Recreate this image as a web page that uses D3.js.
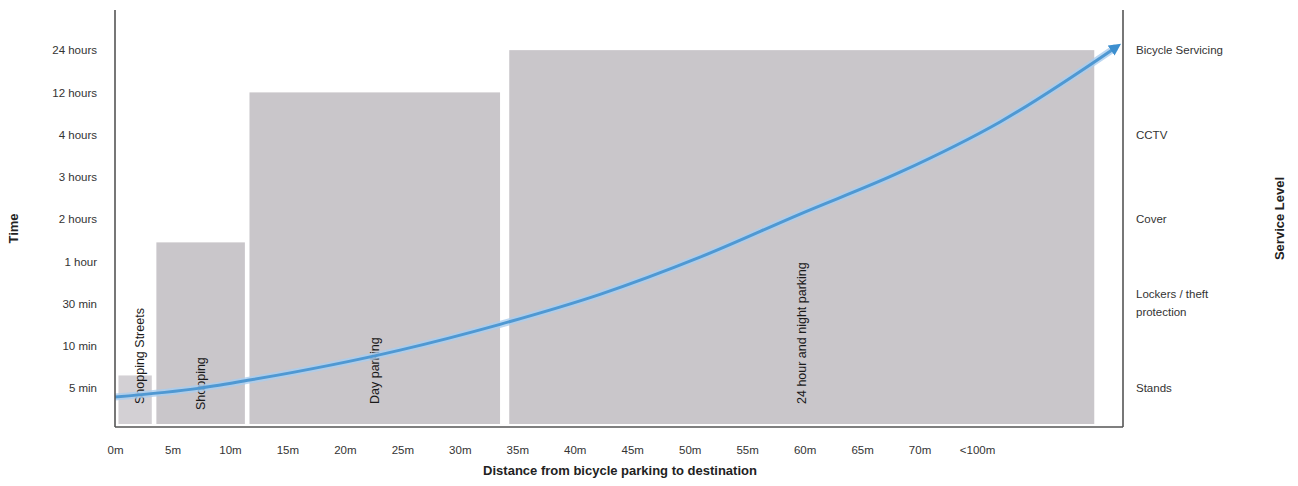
<!DOCTYPE html>
<html>
<head>
<meta charset="utf-8">
<script src="https://cdn.jsdelivr.net/npm/d3@7"></script>
<style>
  body { margin: 0; background: #fff; }
  svg { display: block; font-family: "Liberation Sans", Arial, sans-serif; }
</style>
</head>
<body>
<script>
// time levels on the left axis (bottom to top)
const timeLabels = ["5 min", "10 min", "30 min", "1 hour", "2 hours", "3 hours", "4 hours", "12 hours", "24 hours"];
// service levels on the right axis, with the time level they sit at
const serviceLabels = ["Stands", "Lockers / theft protection", "Cover", "CCTV", "Bicycle Servicing"];
const serviceLevel = [0, 2, 4, 6, 8];

// distance ticks
const distTicks = [0, 5, 10, 15, 20, 25, 30, 35, 40, 45, 50, 55, 60, 65, 70, 75];
const distLabels = ["0m", "5m", "10m", "15m", "20m", "25m", "30m", "35m", "40m", "45m", "50m", "55m", "60m", "65m", "70m", "<100m"];

// parking types (grey blocks)
const parkNames = ["Shopping Streets", "Shopping", "Day parking", "24 hour and night parking"];
const parkFrom = [0.3, 3.6, 11.7, 34.3];
const parkTo = [3.2, 11.3, 33.5, 85.2];
const parkTop = [0.3, 3.45, 7, 8];

// the blue trend curve
const curveDist = [0, 7.4, 11.7, 24.8, 33.5, 42.2, 50.9, 59.6, 68.3, 77, 87.1];
const curveLevel = [-0.21, 0, 0.19, 0.9, 1.51, 2.22, 3.1, 4.12, 5.11, 6.3, 8.07];

const width = 1298, height = 486;
const mLeft = 115, mRight = 1123, mTop = 10, mBottom = 427;

const x = d3.scaleLinear().domain([0, 87.7]).range([mLeft, mRight]);
const y = d3.scaleLinear().domain([-0.92, 8.95]).range([mBottom, mTop]);

const svg = d3.select("body").append("svg")
    .attr("width", width)
    .attr("height", height);

const defs = svg.append("defs");
defs.append("marker")
    .attr("id", "arrow")
    .attr("viewBox", "0 0 10 10")
    .attr("refX", 5).attr("refY", 5)
    .attr("markerWidth", 4).attr("markerHeight", 4)
    .attr("orient", "auto")
    .append("path")
    .attr("d", "M0,0 L10,5 L0,10 z")
    .attr("fill", "#3d8fcf");

// grey blocks
svg.append("g")
    .selectAll("rect")
    .data(parkNames)
    .join("rect")
    .attr("x", (d, i) => x(parkFrom[i]))
    .attr("width", (d, i) => x(parkTo[i]) - x(parkFrom[i]))
    .attr("y", (d, i) => y(parkTop[i]))
    .attr("height", (d, i) => mBottom - 3 - y(parkTop[i]))
    .attr("fill", (d, i) => i == 0 ? "#d3d0d4" : "#c9c6ca");

// block labels, vertical
svg.append("g")
    .selectAll("text")
    .data(parkNames)
    .join("text")
    .attr("transform", (d, i) => `translate(${(x(parkFrom[i]) + x(parkTo[i])) / 2 + (i == 0 ? 5 : 0)},${i == 1 ? 410 : 404}) rotate(-90)`)
    .attr("dy", "0.35em")
    .style("font-size", "12.5px")
    .attr("fill", "#1a1a1a")
    .text(d => d);

// curve
const line = d3.line()
    .x((d, i) => x(curveDist[i]))
    .y((d, i) => y(curveLevel[i]))
    .curve(d3.curveMonotoneX);

svg.append("path")
    .datum(curveDist)
    .attr("d", line)
    .attr("fill", "none")
    .attr("stroke", "#a9cdef")
    .attr("stroke-width", 7)
    .attr("stroke-opacity", 0.8);

svg.append("path")
    .datum(curveDist)
    .attr("d", line)
    .attr("fill", "none")
    .attr("stroke", "#4f98d2")
    .attr("stroke-width", 3)
    .attr("marker-end", "url(#arrow)");

// axis lines
const axisColor = "#555";
svg.append("line").attr("x1", mLeft).attr("x2", mLeft).attr("y1", mTop).attr("y2", mBottom)
    .attr("stroke", axisColor).attr("stroke-width", 1.6);
svg.append("line").attr("x1", mRight).attr("x2", mRight).attr("y1", mTop).attr("y2", mBottom)
    .attr("stroke", axisColor).attr("stroke-width", 1.6);
svg.append("line").attr("x1", mLeft).attr("x2", mRight).attr("y1", mBottom).attr("y2", mBottom)
    .attr("stroke", axisColor).attr("stroke-width", 1.6);

// bottom axis labels
const xAxis = svg.append("g")
    .attr("transform", `translate(0,${mBottom})`)
    .call(d3.axisBottom(x).tickValues(distTicks).tickSize(0).tickPadding(19)
        .tickFormat((d, i) => distLabels[i]));
xAxis.select(".domain").remove();
xAxis.selectAll("text").style("font-size", "11.5px").attr("fill", "#333")
    .style("font-family", "'Liberation Sans', Arial, sans-serif");

// left axis labels
const yAxis = svg.append("g")
    .attr("transform", `translate(${mLeft},0)`)
    .call(d3.axisLeft(y).tickValues(d3.range(timeLabels.length)).tickSize(0).tickPadding(18)
        .tickFormat((d, i) => timeLabels[i]));
yAxis.select(".domain").remove();
yAxis.selectAll("text").style("font-size", "11.5px").attr("fill", "#333")
    .style("font-family", "'Liberation Sans', Arial, sans-serif");

// right axis labels
const rightLab = svg.append("g")
    .selectAll("text")
    .data(serviceLabels)
    .join("text")
    .attr("x", mRight + 13)
    .attr("y", (d, i) => y(serviceLevel[i]))
    .attr("dy", "0.35em")
    .style("font-size", "11.5px")
    .attr("fill", "#333");
rightLab.each(function (d) {
    const t = d3.select(this);
    if (d.indexOf("/") > 0) {
        const parts = ["Lockers / theft", "protection"];
        t.attr("dy", null);
        t.selectAll("tspan").data(parts).join("tspan")
            .attr("x", mRight + 13)
            .attr("dy", (p, k) => k == 0 ? "-0.45em" : "1.5em")
            .text(p => p);
    } else {
        t.text(d);
    }
});

// axis titles
svg.append("text")
    .attr("transform", `translate(18,${(mTop + mBottom) / 2 + 10}) rotate(-90)`)
    .attr("text-anchor", "middle")
    .style("font-size", "13px").style("font-weight", "bold")
    .attr("fill", "#222")
    .text("Time");

svg.append("text")
    .attr("x", 620).attr("y", 475)
    .attr("text-anchor", "middle")
    .style("font-size", "13px").style("font-weight", "bold")
    .attr("fill", "#222")
    .text("Distance from bicycle parking to destination");

svg.append("text")
    .attr("transform", `translate(1284,${(mTop + mBottom) / 2}) rotate(-90)`)
    .attr("text-anchor", "middle")
    .style("font-size", "13px").style("font-weight", "bold")
    .attr("fill", "#222")
    .text("Service Level");
</script>
</body>
</html>
